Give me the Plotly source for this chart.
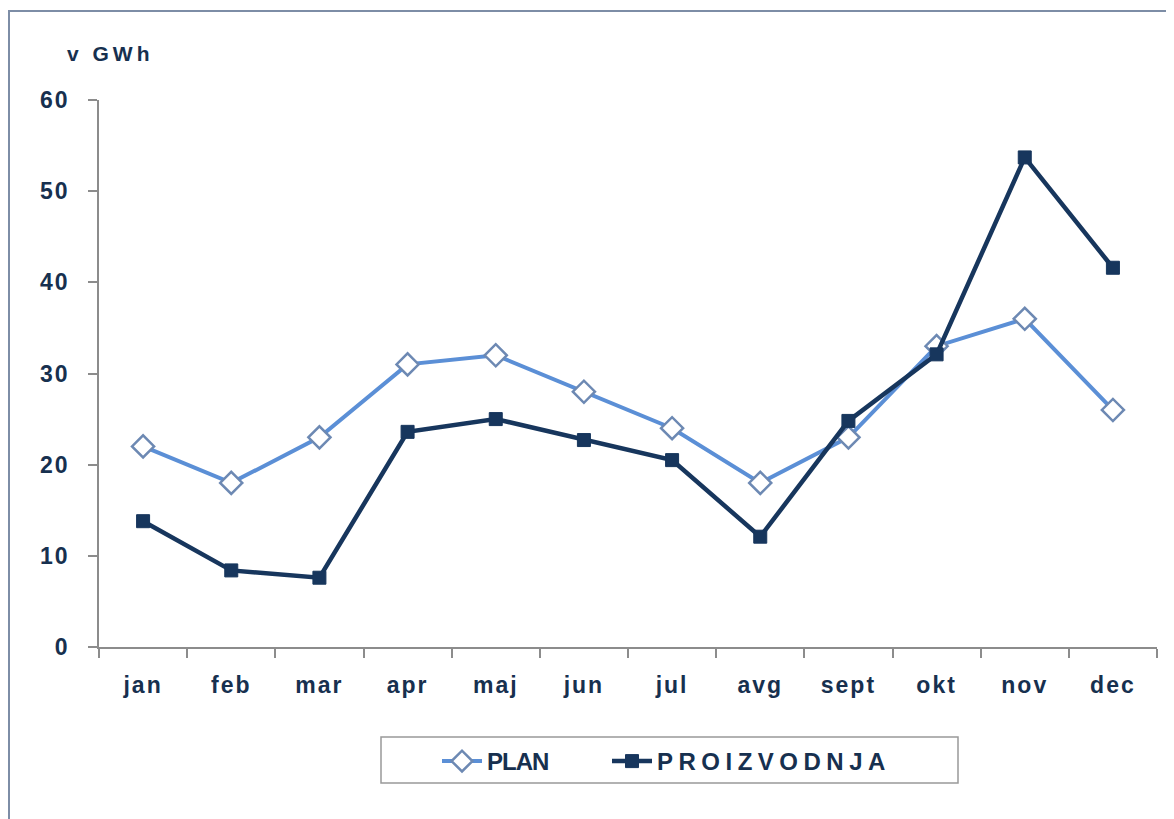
import plotly.graph_objects as go

months = ["jan", "feb", "mar", "apr", "maj", "jun", "jul", "avg", "sept", "okt", "nov", "dec"]
plan = [22, 18, 23, 31, 32, 28, 24, 18, 23, 33, 36, 26]
proizvodnja = [13.8, 8.4, 7.6, 23.6, 25.0, 22.7, 20.5, 12.1, 24.8, 32.1, 53.7, 41.6]
y_ticks = [0, 10, 20, 30, 40, 50, 60]

OFF = 8  # page body margin
W, H = 1174 - OFF, 819 - OFF
# plot area in reference pixel coords
X0, X1, Y0, Y1 = 99, 1157, 100, 647
L, R, T, B = X0 - OFF, W - (X1 - OFF), Y0 - OFF, H - (Y1 - OFF)
pw, ph = W - L - R, H - T - B

def px_x(x):
    return (x - OFF - L) / pw

def px_y(y):
    return (H - B - (y - OFF)) / ph

NAVY = "#17365d"
LIGHT = "#5b8fd6"
TXT = "#17304f"
FAM = "Liberation Sans, Arial, sans-serif"
FONT = dict(family=FAM, size=23, color=TXT, weight="bold")

fig = go.Figure()
fig.add_trace(go.Scatter(
    x=months, y=plan, name="PLAN", mode="lines+markers",
    line=dict(color=LIGHT, width=4),
    marker=dict(symbol="diamond", size=17, color="white", line=dict(color="#6d89b3", width=2.5)),
))
fig.add_trace(go.Scatter(
    x=months, y=proizvodnja, name="PROIZVODNJA", mode="lines+markers",
    line=dict(color=NAVY, width=4.5),
    marker=dict(symbol="square", size=13, color=NAVY, line=dict(color=NAVY, width=1)),
))

fig.update_layout(
    width=W, height=H,
    margin=dict(l=L, r=R, t=T, b=B, autoexpand=False),
    paper_bgcolor="white", plot_bgcolor="white",
    font=FONT,
    showlegend=True,
    legend=dict(
        orientation="h", x=px_x(437), y=px_y(739), xanchor="left", yanchor="top",
        font=dict(family=FAM, size=24, color=TXT, weight="bold"),
        bgcolor="rgba(0,0,0,0)", entrywidth=115, itemwidth=40,
    ),
    xaxis=dict(
        type="category", range=[-0.5, 11.5], showgrid=False, zeroline=False,
        showline=True, linecolor="#8c8c8c", linewidth=1.5,
        ticks="outside", tickson="boundaries", ticklen=9, tickcolor="#8c8c8c", tickwidth=1.5,
        ticklabelstandoff=17, tickfont=FONT,
    ),
    yaxis=dict(
        range=[0, 60], tickvals=y_ticks, showgrid=False, zeroline=False,
        showline=True, linecolor="#8c8c8c", linewidth=1.5,
        ticks="outside", ticklen=9, tickcolor="#8c8c8c", tickwidth=1.5,
        ticklabelstandoff=14, tickfont=FONT,
    ),
    shapes=[
        dict(type="rect", xref="paper", yref="paper",
             x0=px_x(9), x1=px_x(1200), y0=px_y(11), y1=px_y(850),
             line=dict(color="#7d8da6", width=2), layer="below"),
        dict(type="rect", xref="paper", yref="paper",
             x0=px_x(381), x1=px_x(958), y0=px_y(737), y1=px_y(783),
             line=dict(color="#999999", width=1.5), layer="below"),
    ],
    annotations=[
        dict(text="v GWh", xref="paper", yref="paper", x=px_x(75), y=px_y(54),
             xanchor="left", yanchor="middle", showarrow=False,
             font=dict(family=FAM, size=21, color=TXT, weight="bold")),
    ],
)

css = (
    ".xtick text, .ytick text {letter-spacing: 2px;}"
    " .legendtext {letter-spacing: 5.5px;}"
    " .legend .traces:first-child .legendtext {letter-spacing: -1px;}"
    " .legend .scrollbox, .legend g {clip-path: none !important;}"
    " .annotation-text {letter-spacing: 4px;}"
)
post = "var s=document.createElement('style');s.textContent=%r;document.head.appendChild(s);" % css

fig.write_html("out.html", post_script=post)
